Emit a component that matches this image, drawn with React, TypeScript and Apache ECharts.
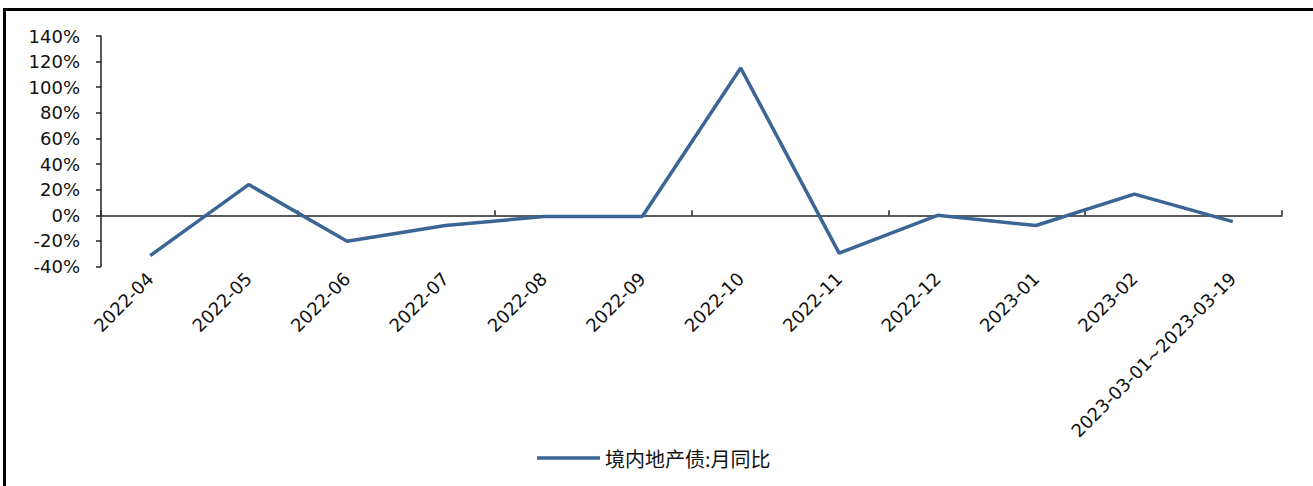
import React, { useEffect, useRef } from "react";
import * as echarts from "echarts";

const categories = [
  "2022-04", "2022-05", "2022-06", "2022-07", "2022-08", "2022-09",
  "2022-10", "2022-11", "2022-12", "2023-01", "2023-02", "2023-03-01~2023-03-19",
];
const seriesName = "境内地产债:月同比";
const values = [-31.5, 24, -20.3, -8, -1, -1, 115, -29.5, 0, -8, 16.5, -5];
const yMin = -40;
const yMax = 140;
const yInterval = 20;

export default function App() {
  const ref = useRef<HTMLDivElement>(null);
  useEffect(() => {
    if (!ref.current) return;
    const chart = echarts.init(ref.current, null, { renderer: "svg" });
    const font = "'DejaVu Sans', sans-serif";
    chart.setOption({
      animation: false,
      backgroundColor: "transparent",
      grid: { left: 101, right: 31, top: 36, bottom: 219.5, containLabel: false },
      legend: {
        data: [{ name: seriesName, icon: "rect" }],
        top: 443,
        left: 532,
        itemWidth: 63,
        itemHeight: 3.5,
        itemGap: 6,
        textStyle: { fontFamily: "'Noto Sans CJK SC', sans-serif", fontSize: 20, color: "#111" },
      },
      xAxis: [
        {
          type: "category",
          data: categories,
          boundaryGap: true,
          axisLine: { onZero: true, lineStyle: { color: "#222", width: 1.5 } },
          axisTick: { show: true, inside: true, length: 5, lineStyle: { color: "#222", width: 1.5 } },
          axisLabel: { show: false },
          splitLine: { show: false },
        },
        {
          type: "category",
          data: categories,
          position: "bottom",
          boundaryGap: true,
          axisLine: { show: false, onZero: false },
          axisTick: { show: false },
          axisLabel: {
            show: true,
            rotate: 45,
            interval: 0,
            margin: 9,
            fontFamily: font,
            fontSize: 18,
            color: "#111",
          },
          splitLine: { show: false },
        },
      ],
      yAxis: {
        type: "value",
        min: yMin,
        max: yMax,
        interval: yInterval,
        axisLine: { show: true, lineStyle: { color: "#222", width: 1.5 } },
        axisTick: { show: true, inside: false, length: 5, lineStyle: { color: "#222", width: 1.5 } },
        axisLabel: {
          formatter: "{value}%",
          fontFamily: font,
          fontSize: 18,
          color: "#111",
          margin: 21,
        },
        splitLine: { show: false },
      },
      series: [
        {
          name: seriesName,
          type: "line",
          data: values,
          xAxisIndex: 0,
          symbol: "none",
          lineStyle: { color: "#3A6595", width: 3.5 },
          itemStyle: { color: "#3A6595" },
        },
      ],
    });
    return () => chart.dispose();
  }, []);

  return (
    <div style={{ position: "fixed", left: 0, top: 0, width: 1313, height: 486, background: "#fff", overflow: "hidden" }}>
      <div
        style={{
          position: "absolute",
          left: 3,
          top: 8,
          width: 1400,
          height: 600,
          borderLeft: "3px solid #000",
          borderTop: "3px solid #000",
          boxSizing: "border-box",
        }}
      />
      <div ref={ref} style={{ position: "absolute", left: 0, top: 0, width: 1313, height: 486 }} />
    </div>
  );
}
